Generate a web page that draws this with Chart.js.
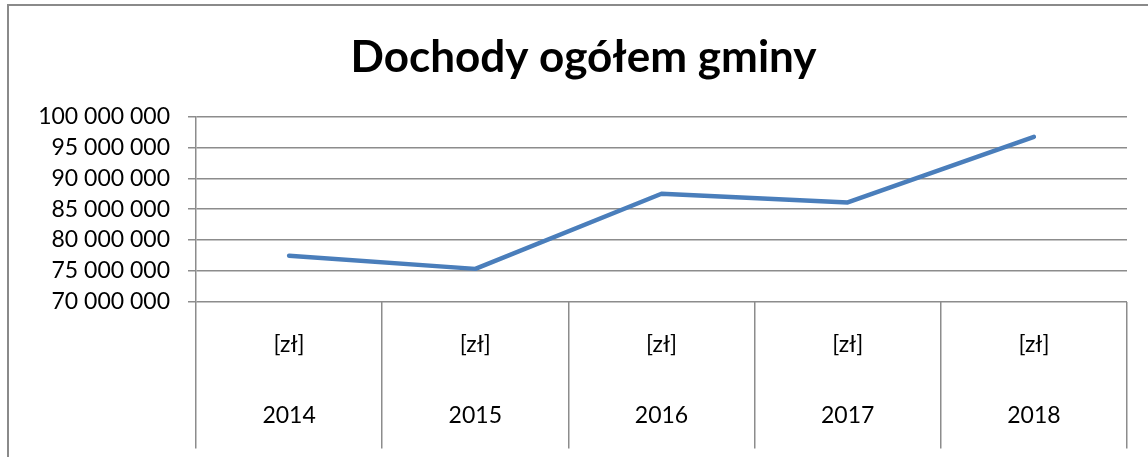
<!DOCTYPE html>
<html>
<head>
<meta charset="utf-8">
<script src="https://cdn.jsdelivr.net/npm/chart.js@4"></script>
<style>
  html, body { margin: 0; padding: 0; background: #fff; overflow: hidden; }
  #wrap { position: relative; width: 1148px; height: 457px; }
  #frame { position: absolute; left: 7px; top: 4px; width: 2000px; height: 1000px;
           border: 2px solid #8a8a8a; pointer-events: none; }
</style>
</head>
<body>
<div id="wrap">
  <canvas id="wykres" width="1148" height="457"></canvas>
  <div id="frame"></div>
</div>
<script>
const lata = ['2014', '2015', '2016', '2017', '2018'];
const jednostka = '[zł]';
const dochody = [77450000, 75300000, 87500000, 86100000, 96750000];

const yMin = 70000000;
const yMax = 100000000;
const yKrok = 5000000;

const gray = '#8c8c8c';

function formatuj(v) {
  return String(v).replace(/\B(?=(\d{3})+(?!\d))/g, ' ');
}

const ctx = document.getElementById('wykres').getContext('2d');
new Chart(ctx, {
  type: 'line',
  data: {
    labels: lata.map(r => [jednostka, r]),
    datasets: [{
      data: dochody,
      borderColor: '#4a7ebb',
      borderWidth: 4.5,
      borderCapStyle: 'round',
      borderJoinStyle: 'round',
      tension: 0,
      pointRadius: 0,
      fill: false
    }]
  },
  options: {
    responsive: false,
    animation: false,
    layout: { padding: { left: 40, right: 21, top: 0, bottom: 0 } },
    plugins: {
      legend: { display: false },
      tooltip: { enabled: false },
      title: {
        display: true,
        text: 'Dochody ogółem gminy',
        color: '#000',
        font: { family: 'Lato', weight: 'bold', size: 44, lineHeight: 1.2 },
        padding: { top: 31, bottom: 33 }
      }
    },
    scales: {
      x: {
        offset: true,
        grid: { offset: true, drawOnChartArea: false, tickLength: 147, color: gray, lineWidth: 1.5 },
        border: { display: false },
        ticks: {
          maxRotation: 0,
          autoSkip: false,
          padding: -139,
          color: '#000',
          font: { family: 'Lato', size: 23, lineHeight: '71px' }
        },
        afterFit: s => { s.height = 155.5; }
      },
      y: {
        min: yMin,
        max: yMax,
        ticks: {
          stepSize: yKrok,
          padding: 18,
          color: '#000',
          font: { family: 'Lato', size: 23 },
          callback: v => formatuj(v)
        },
        grid: { color: gray, lineWidth: 1.5, tickLength: 8 },
        border: { display: true, color: gray, width: 1.5 },
        afterFit: s => { s.width = 156; }
      }
    }
  }
});
</script>
</body>
</html>
